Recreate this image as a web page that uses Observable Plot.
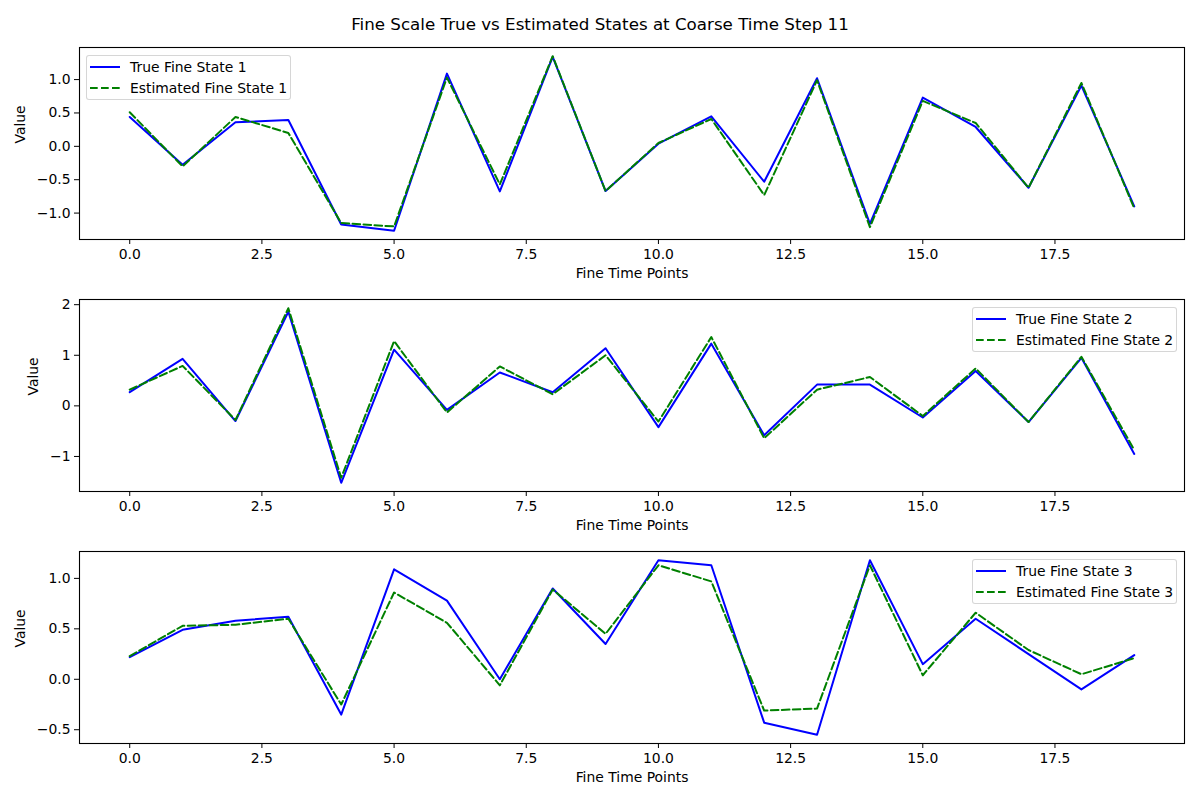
<!DOCTYPE html>
<html>
<head>
<meta charset="utf-8">
<script src="https://cdn.jsdelivr.net/npm/d3@7"></script>
<script src="https://cdn.jsdelivr.net/npm/@observablehq/plot@0.6"></script>
<style>
  html, body { margin: 0; padding: 0; background: #fff; }
  #page { position: relative; width: 1200px; height: 800px; font-family: "DejaVu Sans", sans-serif; color: #000; }
  #title { position: absolute; left: 0; width: 1200px; top: 14px; line-height: 20px; text-align: center; font-size: 16.7px; }
  .panel { position: absolute; left: 0; width: 1200px; height: 252px; }
  .panel svg { display: block; }
  .legend { position: absolute; width: 205px; height: 45px; box-sizing: border-box;
            border: 1px solid rgba(204,204,204,0.8); border-radius: 3px; background: rgba(255,255,255,0.8); }
  .legend .row { position: absolute; left: 0; height: 20px; width: 100%; }
  .legend svg { position: absolute; left: 3px; top: 0; }
  .legend span { position: absolute; left: 43px; top: 0; line-height: 20px; font-size: 13.9px; white-space: nowrap; }
</style>
</head>
<body>
<div id="page">
  <div id="title">Fine Scale True vs Estimated States at Coarse Time Step 11</div>
</div>
<script>
// ---- data ----
const fineTime = [0,1,2,3,4,5,6,7,8,9,10,11,12,13,14,15,16,17,18,19];

const trueState1 = [0.44,-0.275,0.36,0.395,-1.17,-1.265,1.09,-0.675,1.34,-0.67,0.04,0.45,-0.53,1.02,-1.16,0.73,0.29,-0.62,0.91,-0.90];
const estState1  = [0.51,-0.30,0.44,0.20,-1.15,-1.20,1.03,-0.57,1.35,-0.67,0.05,0.41,-0.73,0.99,-1.21,0.68,0.35,-0.62,0.95,-0.93];

const trueState2 = [0.27,0.93,-0.30,1.86,-1.52,1.11,-0.08,0.66,0.27,1.14,-0.42,1.23,-0.58,0.42,0.42,-0.23,0.69,-0.32,0.95,-0.95];
const estState2  = [0.32,0.79,-0.28,1.93,-1.42,1.28,-0.13,0.78,0.23,1.00,-0.31,1.36,-0.64,0.32,0.57,-0.20,0.74,-0.32,0.97,-0.87];

const trueState3 = [0.22,0.49,0.58,0.62,-0.35,1.09,0.78,0.00,0.90,0.35,1.18,1.13,-0.43,-0.55,1.18,0.15,0.60,0.25,-0.10,0.24];
const estState3  = [0.23,0.53,0.54,0.60,-0.25,0.86,0.56,-0.06,0.89,0.45,1.13,0.97,-0.31,-0.29,1.13,0.04,0.66,0.29,0.05,0.21];

const xTicks = [0, 2.5, 5, 7.5, 10, 12.5, 15, 17.5];
const yTicks1 = [-1, -0.5, 0, 0.5, 1];
const yTicks2 = [-1, 0, 1, 2];
const yTicks3 = [-0.5, 0, 0.5, 1];

const xLabel = "Fine Time Points";
const yLabel = "Value";

const panels = [
  {trueV: trueState1, estV: estState1, yTicks: yTicks1, fmt: ".1f", trueName: "True Fine State 1", estName: "Estimated Fine State 1", legend: "left", ylabDx: -59},
  {trueV: trueState2, estV: estState2, yTicks: yTicks2, fmt: "d",   trueName: "True Fine State 2", estName: "Estimated Fine State 2", legend: "right", ylabDx: -46},
  {trueV: trueState3, estV: estState3, yTicks: yTicks3, fmt: ".1f", trueName: "True Fine State 3", estName: "Estimated Fine State 3", legend: "right", ylabDx: -59}
];

const TRUE_COLOR = "#0000ff";
const EST_COLOR = "#008000";
const page = document.getElementById("page");

function margins(vals) {
  const lo = d3.min(vals), hi = d3.max(vals);
  const pad = (hi - lo) * 0.05;
  return [lo - pad, hi + pad];
}

function legendRow(topPx, color, dashed, label) {
  const row = document.createElement("div");
  row.className = "row";
  row.style.top = topPx + "px";
  row.innerHTML = `<svg width="32" height="20"><line x1="0" x2="30" y1="10" y2="10" stroke="${color}" stroke-width="2"${dashed ? ' stroke-dasharray="7.7,3.3"' : ''}/></svg><span>${label}</span>`;
  return row;
}

panels.forEach((p, i) => {
  const wrap = document.createElement("div");
  wrap.className = "panel";
  wrap.style.top = (41 + 252 * i) + "px";

  const trueRows = fineTime.map((t, k) => ({t, v: p.trueV[k]}));
  const estRows = fineTime.map((t, k) => ({t, v: p.estV[k]}));

  const chart = Plot.plot({
    width: 1200,
    height: 252,
    marginTop: 6,
    marginBottom: 54,
    marginLeft: 79,
    marginRight: 16,
    style: {fontFamily: "DejaVu Sans, sans-serif", fontSize: "13.9px", color: "#000", background: "#fff", overflow: "visible"},
    x: {domain: [-0.95, 19.95]},
    y: {domain: margins(p.trueV.concat(p.estV))},
    marks: [
      Plot.axisX({ticks: xTicks, tickFormat: d3.format(".1f"), tickSize: 5, tickPadding: 5, label: null}),
      Plot.axisY({ticks: p.yTicks, tickFormat: d3.format(p.fmt), tickSize: 5, tickPadding: 4, label: null}),
      Plot.line(trueRows, {x: "t", y: "v", stroke: TRUE_COLOR, strokeWidth: 2}),
      Plot.line(estRows, {x: "t", y: "v", stroke: EST_COLOR, strokeWidth: 2, strokeDasharray: "7.7,3.3"}),
      Plot.frame({stroke: "#000", strokeWidth: 1.1}),
      Plot.text([xLabel], {text: d => d, frameAnchor: "bottom", dy: 38, fontSize: 13.9}),
      Plot.text([yLabel], {text: d => d, frameAnchor: "left", dx: p.ylabDx, rotate: -90, fontSize: 13.9})
    ]
  });
  wrap.appendChild(chart);

  const lg = document.createElement("div");
  lg.className = "legend";
  lg.style.top = "14px";
  if (p.legend === "left") lg.style.left = "86px";
  else lg.style.left = "972px";
  lg.appendChild(legendRow(1, TRUE_COLOR, false, p.trueName));
  lg.appendChild(legendRow(22, EST_COLOR, true, p.estName));
  wrap.appendChild(lg);

  page.appendChild(wrap);
});
</script>
</body>
</html>
